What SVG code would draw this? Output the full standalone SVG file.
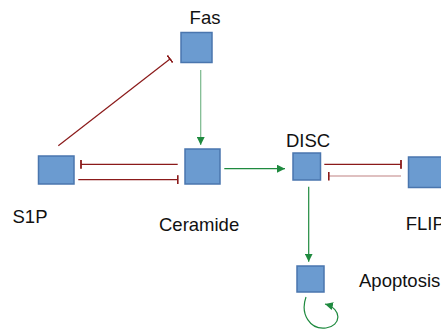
<svg xmlns="http://www.w3.org/2000/svg" width="441" height="329" viewBox="0 0 441 329">
<defs>
<style>
.box{fill:#6b9bd0;stroke:#4a76ae;stroke-width:1.5}
.lbl{font-family:"Liberation Sans",Arial,sans-serif;font-size:18.5px;fill:#111}
.inh{stroke:#8b1a1a;stroke-width:1.2;fill:none}
.act{stroke:#1f8a3f;stroke-width:1.2;fill:none}
</style>
<marker id="arr" viewBox="0 0 10 10" refX="10" refY="5" markerWidth="8" markerHeight="8" markerUnits="userSpaceOnUse" orient="auto">
<path d="M0,0 L10,5 L0,10 z" fill="#1f8a3f"/>
</marker>
<marker id="bar" viewBox="0 0 2 10" refX="1" refY="5" markerWidth="2" markerHeight="9" markerUnits="userSpaceOnUse" orient="auto">
<rect x="0" y="0" width="2" height="10" fill="#8b1a1a"/>
</marker>
</defs>
<rect width="441" height="329" fill="#fff"/>
<g id="connectors">
<line class="act" x1="200.7" y1="70" x2="200.7" y2="145" stroke-opacity="0.6" stroke-width="1.6" marker-end="url(#arr)"/>
<line class="inh" x1="58.3" y1="145.7" x2="170" y2="59" marker-end="url(#bar)"/>
<line class="inh" x1="177.7" y1="164.3" x2="81" y2="164.3" marker-end="url(#bar)"/>
<line class="inh" x1="78.3" y1="179.7" x2="177.7" y2="179.7" marker-end="url(#bar)"/>
<line class="act" x1="224.3" y1="168.7" x2="285" y2="168.7" marker-end="url(#arr)"/>
<line class="inh" x1="324.3" y1="164.3" x2="401" y2="164.3" marker-end="url(#bar)"/>
<line class="inh" x1="401" y1="176" x2="328.7" y2="176" stroke-opacity="0.55" marker-end="url(#bar)"/>
<line class="act" x1="308.7" y1="186.7" x2="308.7" y2="261.7" marker-end="url(#arr)"/>
<path class="act" d="M306,297 C300,314 310,330 326,328 C341,326 343,309 325,304" marker-end="url(#arr)"/>
</g>
<g id="Fas">
<rect class="box" x="181" y="32.5" width="31" height="30"/>
<text class="lbl" x="205" y="24" text-anchor="middle">Fas</text>
</g>
<g id="Ceramide">
<rect class="box" x="185" y="149" width="35" height="35"/>
<text class="lbl" x="159" y="230.7">Ceramide</text>
</g>
<g id="S1P">
<rect class="box" x="38.5" y="156" width="35.5" height="28"/>
<text class="lbl" x="12.5" y="222.7">S1P</text>
</g>
<g id="DISC">
<rect class="box" x="293" y="153" width="27.5" height="27"/>
<text class="lbl" x="308" y="147.3" text-anchor="middle">DISC</text>
</g>
<g id="FLIP">
<rect class="box" x="408.5" y="157" width="36" height="30.5"/>
<text class="lbl" x="405.7" y="230.3">FLIP</text>
</g>
<g id="Apoptosis">
<rect class="box" x="297" y="266" width="27" height="26"/>
<text class="lbl" x="359" y="286.7">Apoptosis</text>
</g>
</svg>
